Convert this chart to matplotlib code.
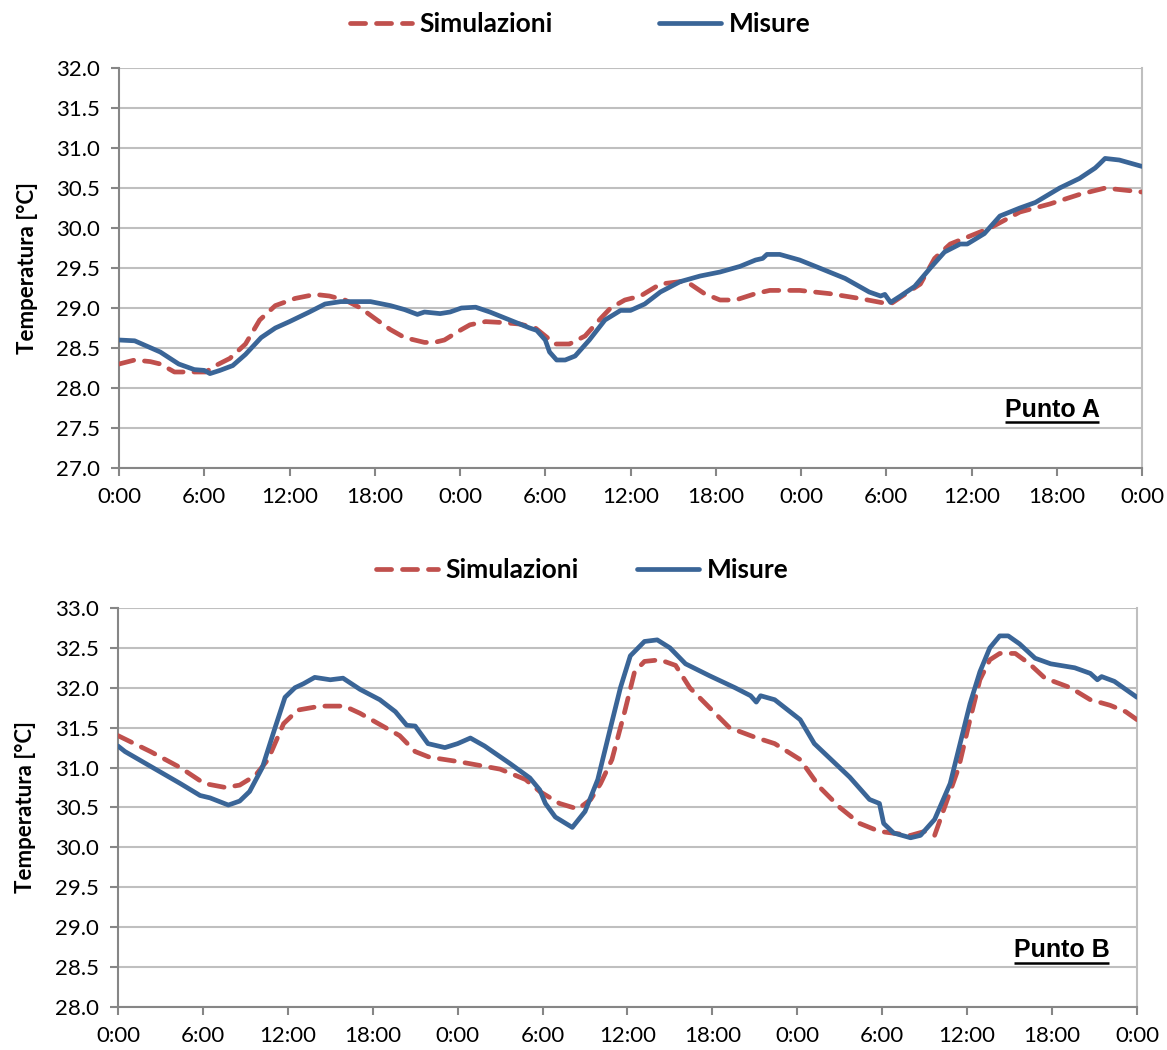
# Confronto temperature simulate / misurate nei punti A e B (tre giorni)
import matplotlib
matplotlib.use('Agg')
import matplotlib.pyplot as plt
from matplotlib.lines import Line2D

# --- Dati: ore dall'inizio (0..72) e temperature in °C ---
ore_mis_a = [0.0, 1.1, 2.9, 4.2, 5.3, 6.0, 6.4, 7.1, 8.0, 8.9, 10.0, 11.0, 12.0, 13.4, 14.5, 15.6,
             17.7, 19.1, 20.1, 21.0, 21.5, 22.6, 23.3, 24.1, 25.1, 26.1, 27.5, 28.9, 29.4, 30.0,
             30.3, 30.8, 31.4, 32.1, 33.1, 34.2, 35.3, 36.0, 37.0, 38.1, 39.5, 40.9, 42.3, 43.7,
             44.8, 45.3, 45.6, 46.5, 47.9, 49.3, 51.1, 52.8, 53.6, 53.9, 54.3, 55.0, 56.0, 57.1,
             58.1, 59.2, 59.7, 60.9, 62.0, 63.4, 64.5, 66.2, 67.6, 68.7, 69.0, 69.4, 70.4, 72.0]
misure_a = [28.60, 28.59, 28.45, 28.30, 28.23, 28.22, 28.18, 28.22, 28.28, 28.42, 28.63, 28.75,
            28.83, 28.95, 29.05, 29.08, 29.08, 29.03, 28.98, 28.92, 28.95, 28.93, 28.95, 29.00,
            29.01, 28.95, 28.85, 28.75, 28.72, 28.60, 28.45, 28.35, 28.35, 28.40, 28.60, 28.85,
            28.97, 28.97, 29.05, 29.20, 29.33, 29.40, 29.45, 29.52, 29.60, 29.62, 29.67, 29.67,
            29.60, 29.50, 29.37, 29.20, 29.15, 29.17, 29.07, 29.15, 29.27, 29.50, 29.70, 29.80,
            29.80, 29.93, 30.15, 30.25, 30.32, 30.50, 30.62, 30.75, 30.80, 30.87, 30.85, 30.77]

ore_sim_a = [0.0, 1.1, 2.2, 2.9, 3.9, 5.3, 6.1, 6.8, 7.8, 8.9, 9.9, 11.0, 12.4, 13.8, 14.8, 15.9,
             17.0, 18.0, 19.1, 20.1, 21.5, 22.2, 22.9, 24.0, 24.7, 25.8, 26.8, 28.2, 29.3, 30.0,
             30.7, 31.7, 32.8, 33.9, 34.6, 35.6, 36.7, 38.1, 39.5, 40.2, 41.2, 42.3, 43.4, 44.8,
             45.8, 47.9, 50.0, 52.1, 53.6, 54.3, 55.3, 56.4, 57.4, 58.5, 59.9, 61.3, 63.4, 65.5,
             67.6, 69.4, 72.0]
simulazioni_a = [28.30, 28.35, 28.33, 28.30, 28.20, 28.20, 28.20, 28.28, 28.37, 28.55, 28.85,
                 29.03, 29.12, 29.17, 29.15, 29.10, 29.00, 28.87, 28.73, 28.63, 28.57, 28.57,
                 28.60, 28.72, 28.79, 28.83, 28.82, 28.80, 28.75, 28.65, 28.55, 28.55, 28.65,
                 28.87, 29.00, 29.10, 29.15, 29.30, 29.33, 29.30, 29.18, 29.10, 29.10, 29.18,
                 29.22, 29.22, 29.18, 29.12, 29.07, 29.05, 29.17, 29.30, 29.62, 29.80, 29.90,
                 30.00, 30.20, 30.30, 30.42, 30.50, 30.45]

ore_mis_b = [0.0, 0.5, 4.4, 5.8, 6.5, 7.8, 8.6, 9.3, 10.2, 11.1, 11.8, 12.5, 13.1, 13.9, 15.0,
             15.9, 17.1, 18.5, 19.6, 20.4, 21.0, 21.9, 23.1, 24.0, 24.9, 25.9, 27.7, 29.1, 29.8,
             30.2, 30.9, 32.1, 33.0, 33.9, 34.8, 35.5, 36.2, 37.2, 38.1, 39.0, 40.1, 41.8, 43.6,
             44.7, 45.1, 45.4, 46.4, 48.2, 49.2, 51.7, 53.1, 53.8, 54.1, 54.8, 56.0, 56.7, 57.7,
             58.8, 59.5, 60.2, 60.9, 61.6, 62.3, 62.9, 63.7, 64.8, 65.9, 67.6, 68.7, 69.2, 69.5,
             70.4, 72.0]
misure_b = [31.27, 31.20, 30.80, 30.65, 30.62, 30.53, 30.58, 30.70, 31.00, 31.50, 31.88, 32.00,
            32.05, 32.13, 32.10, 32.12, 31.98, 31.85, 31.70, 31.53, 31.52, 31.30, 31.25, 31.30,
            31.37, 31.27, 31.05, 30.87, 30.72, 30.55, 30.38, 30.25, 30.45, 30.85, 31.50, 32.00,
            32.40, 32.58, 32.60, 32.50, 32.30, 32.15, 32.00, 31.90, 31.82, 31.90, 31.85, 31.60,
            31.30, 30.88, 30.60, 30.55, 30.30, 30.18, 30.12, 30.15, 30.35, 30.80, 31.30, 31.80,
            32.20, 32.50, 32.65, 32.65, 32.55, 32.37, 32.30, 32.25, 32.18, 32.10, 32.14, 32.08,
            31.88]

ore_sim_b = [0.0, 2.3, 4.4, 6.1, 7.6, 8.6, 9.7, 10.6, 11.7, 12.7, 14.3, 16.0, 17.1, 18.9, 19.9,
             21.0, 22.0, 24.2, 27.0, 28.8, 29.8, 31.2, 32.5, 33.4, 34.1, 34.9, 35.8, 36.5, 37.2,
             38.3, 39.4, 40.4, 41.8, 43.2, 45.0, 46.4, 48.2, 49.6, 51.0, 52.4, 53.8, 56.0, 57.0,
             57.7, 58.4, 59.4, 60.2, 60.9, 61.6, 62.3, 63.4, 64.4, 65.5, 67.3, 68.7, 70.1, 71.2,
             72.0]
simulazioni_b = [31.40, 31.20, 31.00, 30.80, 30.75, 30.78, 30.90, 31.10, 31.55, 31.72, 31.77,
                 31.77, 31.68, 31.50, 31.40, 31.20, 31.13, 31.07, 30.98, 30.85, 30.70, 30.55,
                 30.48, 30.60, 30.80, 31.10, 31.70, 32.20, 32.33, 32.35, 32.28, 32.00, 31.75,
                 31.50, 31.38, 31.30, 31.10, 30.75, 30.50, 30.30, 30.20, 30.15, 30.20, 30.15,
                 30.50, 31.00, 31.60, 32.10, 32.35, 32.43, 32.43, 32.30, 32.12, 32.00, 31.85,
                 31.78, 31.70, 31.60]

tick_ore = list(range(0, 73, 6))
tick_etichette = ['0:00', '6:00', '12:00', '18:00'] * 3 + ['0:00']

ROSSO = '#C0504D'
BLU = '#3A6597'
GRIGIO_GRID = '#BFBFBF'
GRIGIO_ASSE = '#868686'

plt.rcParams['font.family'] = ['Lato', 'DejaVu Sans']

fig = plt.figure(figsize=(11.67, 10.5), dpi=100)
ax_a = fig.add_axes([0.102, 0.5543, 0.8766, 0.3809])
ax_b = fig.add_axes([0.1011, 0.0410, 0.8732, 0.3800])


def prepara_asse(ax, ymin, ymax):
    ax.set_xlim(0, 72)
    ax.set_ylim(ymin, ymax)
    ax.set_xticks(tick_ore)
    ax.set_xticklabels(tick_etichette)
    ax.set_yticks([ymin + 0.5 * i for i in range(11)])
    ax.set_yticklabels([f'{ymin + 0.5 * i:.1f}' for i in range(11)])
    ax.grid(axis='y', color=GRIGIO_GRID, linewidth=1.5)
    ax.set_axisbelow(True)
    for lato in ['left', 'bottom']:
        ax.spines[lato].set_color(GRIGIO_ASSE)
        ax.spines[lato].set_linewidth(1.5)
    ax.spines['right'].set_color(GRIGIO_GRID)
    ax.spines['right'].set_linewidth(1.5)
    ax.spines['top'].set_visible(False)
    ax.tick_params(axis='both', which='major', length=6, width=1.5, color=GRIGIO_ASSE,
                   labelsize=16, labelcolor='black')
    ax.tick_params(axis='x', pad=8)
    ax.tick_params(axis='y', pad=8)
    ax.set_ylabel('Temperatura [°C]', fontsize=16, fontweight='bold', labelpad=13)


def disegna(ax, ore_sim, sim, ore_mis, mis):
    ax.plot(ore_sim, sim, color=ROSSO, linewidth=3.4, linestyle=(0, (3.2, 2.3)),
            dash_capstyle='round', solid_joinstyle='round', zorder=3)
    ax.plot(ore_mis, mis, color=BLU, linewidth=3.4, solid_capstyle='round',
            solid_joinstyle='round', zorder=4)


def etichetta_sottolineata(ax, x, y, testo):
    t = ax.text(x, y, testo, transform=ax.transAxes, ha='center', va='baseline',
                fontsize=18, fontweight='bold', family=['Liberation Sans', 'DejaVu Sans'])
    fig.canvas.draw()
    bb = t.get_window_extent().transformed(ax.transAxes.inverted())
    ax.plot([bb.x0, bb.x1], [y - 0.014, y - 0.014], transform=ax.transAxes,
            color='black', linewidth=1.8, solid_capstyle='butt', clip_on=False)


prepara_asse(ax_a, 27.0, 32.0)
prepara_asse(ax_b, 28.0, 33.0)
disegna(ax_a, ore_sim_a, simulazioni_a, ore_mis_a, misure_a)
disegna(ax_b, ore_sim_b, simulazioni_b, ore_mis_b, misure_b)

etichetta_sottolineata(ax_a, 0.912, 0.128, 'Punto A')
etichetta_sottolineata(ax_b, 0.926, 0.125, 'Punto B')

# --- Legende sopra ogni grafico ---
maniglie = [Line2D([], [], color=ROSSO, linewidth=3.4, linestyle=(0, (3.2, 2.3)),
                   dash_capstyle='round'),
            Line2D([], [], color=BLU, linewidth=3.4, solid_capstyle='round')]
nomi = ['Simulazioni', 'Misure']
fig.legend(maniglie, nomi, loc='center', bbox_to_anchor=(0.497, 0.977), ncol=2,
           frameon=False, prop={'weight': 'bold', 'size': 19}, handlelength=2.35,
           handletextpad=0.3, columnspacing=4.0)
fig.legend(maniglie, nomi, loc='center', bbox_to_anchor=(0.499, 0.457), ncol=2,
           frameon=False, prop={'weight': 'bold', 'size': 19}, handlelength=2.35,
           handletextpad=0.3, columnspacing=2.2)

fig.savefig('out.png', dpi=100)
